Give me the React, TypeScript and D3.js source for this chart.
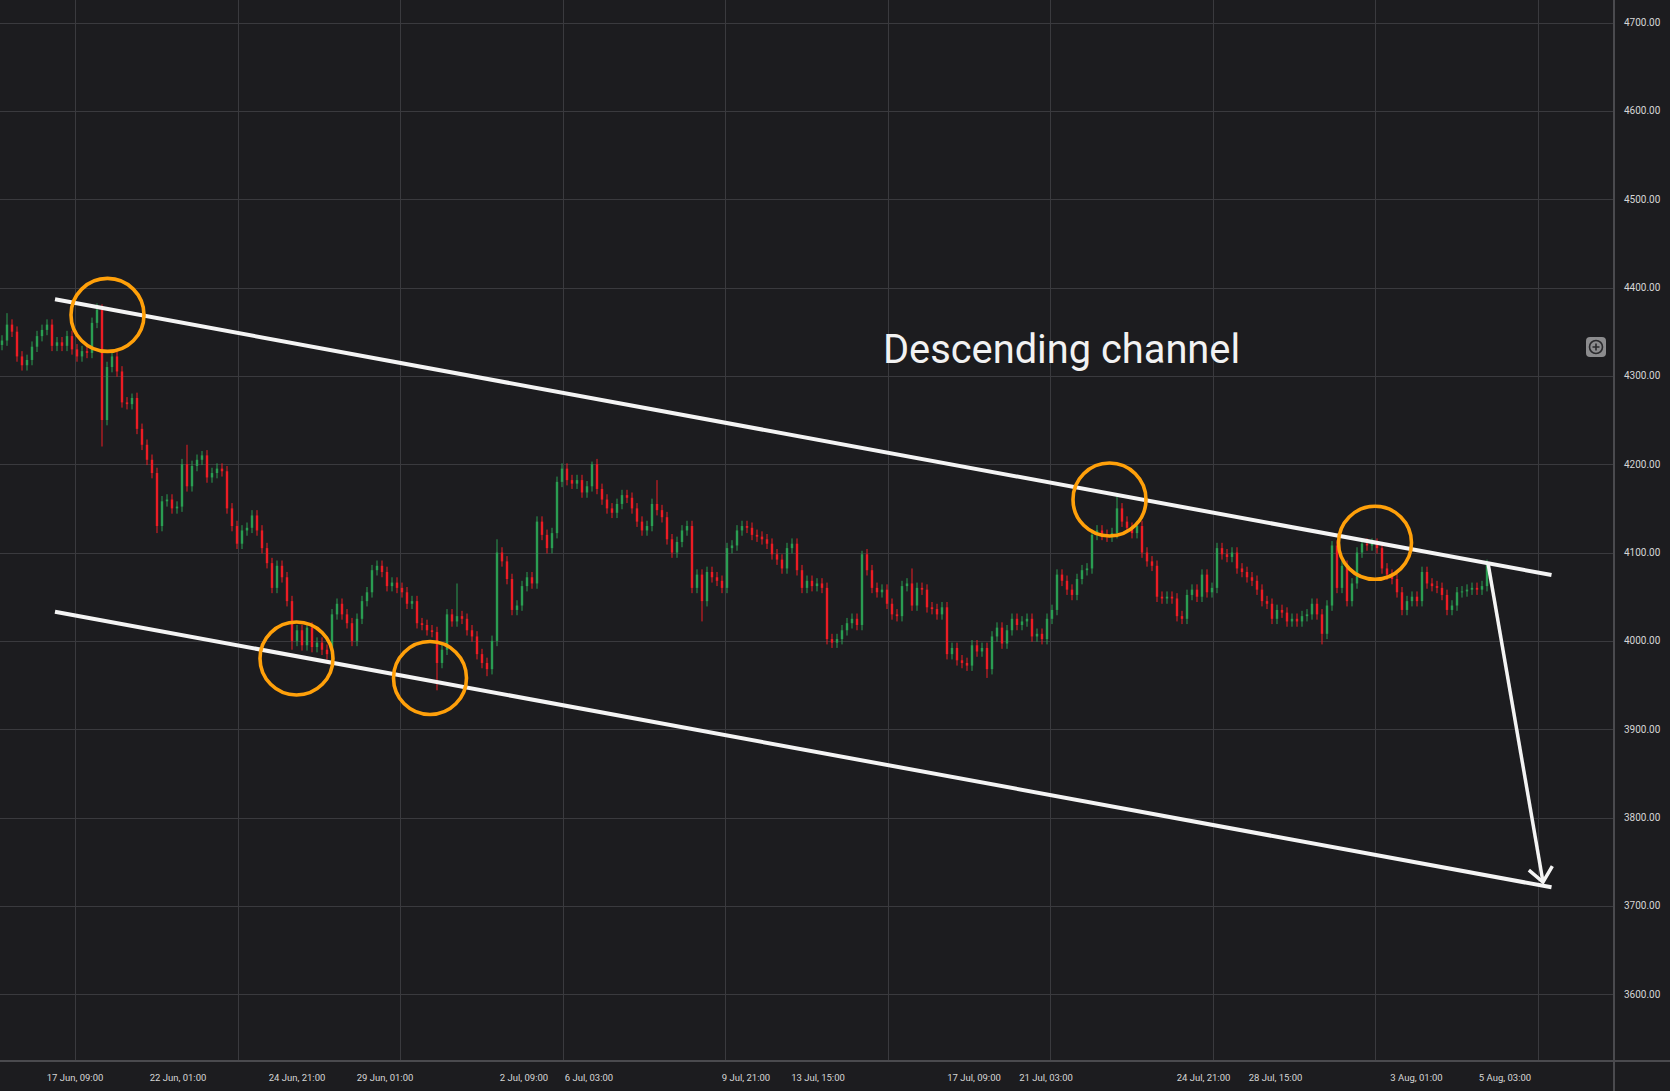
import React, { FunctionComponent, useEffect, useRef } from "react";
import * as d3 from 'd3';

// hourly closes (one value per bar)
const closes = [
  4340, 4358, 4350, 4322, 4312, 4318, 4333, 4345, 4352, 4358,
  4334, 4338, 4334, 4345, 4330, 4322, 4328, 4326, 4360, 4375,
  4250, 4310, 4322, 4305, 4270, 4268, 4275, 4240, 4222, 4205,
  4190, 4130, 4158, 4160, 4150, 4152, 4200, 4175, 4198, 4205,
  4210, 4185, 4190, 4195, 4192, 4150, 4130, 4110, 4125, 4128,
  4142, 4125, 4105, 4088, 4060, 4085, 4072, 4045, 4000, 4012,
  3995, 4015, 3993, 3998, 3990, 3985, 4030, 4042, 4030, 4020,
  4000, 4025, 4045, 4055, 4080, 4085, 4078, 4062, 4066, 4060,
  4055, 4042, 4045, 4020, 4018, 4012, 4010, 3975, 3990, 4030,
  4022, 4028, 4025, 4012, 4005, 3985, 3975, 3968, 4000, 4100,
  4090, 4070, 4035, 4040, 4062, 4072, 4065, 4135, 4120, 4105,
  4122, 4180, 4195, 4182, 4178, 4182, 4168, 4175, 4200, 4172,
  4160, 4150, 4145, 4155, 4165, 4162, 4150, 4135, 4125, 4130,
  4155, 4148, 4140, 4115, 4100, 4112, 4125, 4130, 4060, 4075,
  4045, 4078, 4072, 4068, 4060, 4105, 4108, 4125, 4130, 4128,
  4120, 4118, 4115, 4110, 4098, 4092, 4082, 4105, 4110, 4080,
  4060, 4068, 4062, 4065, 4060, 4002, 3998, 4002, 4012, 4020,
  4025, 4018, 4098, 4080, 4060, 4055, 4058, 4042, 4030, 4028,
  4062, 4065, 4040, 4060, 4058, 4038, 4036, 4030, 4038, 3985,
  3992, 3978, 3975, 3972, 3995, 3988, 3992, 3968, 4005, 4015,
  3997, 4012, 4025, 4018, 4022, 4025, 4005, 4008, 4002, 4025,
  4035, 4075, 4068, 4058, 4052, 4070, 4080, 4082, 4120, 4125,
  4120, 4118, 4122, 4150, 4135, 4128, 4122, 4130, 4100, 4090,
  4085, 4050, 4048, 4050, 4048, 4028, 4025, 4052, 4058, 4050,
  4075, 4055, 4060, 4105, 4098, 4095, 4100, 4082, 4078, 4072,
  4068, 4058, 4045, 4042, 4025, 4035, 4032, 4022, 4025, 4022,
  4028, 4030, 4042, 4030, 4008, 4040, 4108, 4060, 4085, 4045,
  4065, 4100, 4110, 4108, 4110, 4105, 4082, 4075, 4070, 4055,
  4035, 4045, 4050, 4045, 4078, 4065, 4062, 4060, 4052, 4035,
  4040, 4055, 4056, 4058, 4060, 4058, 4062, 4088,
];
const firstOpen = 4335;

// long wicks [bar, price]
const wickHighs: [number, number][] = [
  [1, 4371], [19, 4382], [26, 4280], [37, 4222], [40, 4215], [91, 4065],
  [99, 4115], [118, 4203], [131, 4182], [172, 4102], [182, 4082],
  [223, 4164], [266, 4113], [272, 4114], [297, 4092],
];
const wickLows: [number, number][] = [
  [20, 4220], [31, 4122], [58, 3990], [87, 3944], [97, 3960],
  [140, 4022], [197, 3958], [264, 3996],
];

const priceTicks = [3600, 3700, 3800, 3900, 4000, 4100, 4200, 4300, 4400, 4500, 4600, 4700];
const timeLabels = [
  '17 Jun, 09:00', '22 Jun, 01:00', '24 Jun, 21:00', '29 Jun, 01:00', '2 Jul, 09:00',
  '6 Jul, 03:00', '9 Jul, 21:00', '13 Jul, 15:00', '17 Jul, 09:00', '21 Jul, 03:00',
  '24 Jul, 21:00', '28 Jul, 15:00', '3 Aug, 01:00', '5 Aug, 03:00',
];
const timeLabelBars = [14.6, 35.2, 59, 76.6, 104.4, 117.4, 148.8, 163.2, 194.4, 208.8, 240.3, 254.7, 282.9, 300.6];

// drawings, in [bar, price]
const channelUpper: [number, number][] = [[10.6, 4386.7], [309.9, 4074.6]];
const channelLower: [number, number][] = [[10.6, 4033], [309.9, 3721]];
const arrowLine: [number, number][] = [[297.2, 4088], [308.2, 3727]];
const touches: [number, number][] = [[21.1, 4369], [58.9, 3980], [85.6, 3958], [221.5, 4160], [274.6, 4111]];

const W = 1670;
const H = 1091;
const AXIS_X = 1614;
const AXIS_Y = 1061;
const BG = '#1c1c1f';
const GRID = '#3a3a3e';
const UP = '#2a9d52';
const DOWN = '#ec1c24';

const App: FunctionComponent = () => {
  const ref = useRef(null);

  useEffect(() => {
    if (!ref.current) return;
    const svg = d3.select(ref.current);
    svg.selectAll('*').remove();

    const x = d3.scaleLinear().domain([0, 322.4]).range([2, AXIS_X]);
    const y = d3.scaleLinear().domain([3524.4, 4725.5]).range([AXIS_Y, 0]);

    svg.append('rect').attr('width', W).attr('height', H).attr('fill', BG);

    // grid
    const grid = svg.append('g').attr('shape-rendering', 'crispEdges');
    grid.selectAll('line.h').data(priceTicks).enter().append('line')
      .attr('x1', 0).attr('x2', AXIS_X)
      .attr('y1', d => Math.round(y(d)) + 0.5).attr('y2', d => Math.round(y(d)) + 0.5)
      .attr('stroke', GRID).attr('stroke-width', 1.5);
    grid.selectAll('line.v').data(d3.range(14.6, 322, 32.5)).enter().append('line')
      .attr('x1', d => Math.round(x(d)) + 0.5).attr('x2', d => Math.round(x(d)) + 0.5)
      .attr('y1', 0).attr('y2', AXIS_Y)
      .attr('stroke', GRID).attr('stroke-width', 1.5);

    // axes borders
    grid.append('line').attr('x1', 0).attr('x2', W).attr('y1', AXIS_Y).attr('y2', AXIS_Y)
      .attr('stroke', '#4a4a4e').attr('stroke-width', 1.5);
    grid.append('line').attr('x1', AXIS_X).attr('x2', AXIS_X).attr('y1', 0).attr('y2', H)
      .attr('stroke', '#4a4a4e').attr('stroke-width', 1.5);

    // candles
    const highMap = new Map(wickHighs);
    const lowMap = new Map(wickLows);
    const candles = closes.map((c, i) => {
      const o = i === 0 ? firstOpen : closes[i - 1];
      const hi = highMap.get(i) ?? Math.max(o, c) + 6;
      const lo = lowMap.get(i) ?? Math.min(o, c) - 6;
      return { i, o, c, hi, lo };
    });
    const cg = svg.append('g');
    cg.selectAll('line').data(candles).enter().append('line')
      .attr('x1', d => x(d.i)).attr('x2', d => x(d.i))
      .attr('y1', d => y(d.hi)).attr('y2', d => y(d.lo))
      .attr('stroke', d => (d.c >= d.o ? UP : DOWN)).attr('stroke-width', 1);
    cg.selectAll('rect').data(candles).enter().append('rect')
      .attr('x', d => x(d.i) - 1.2).attr('width', 2.4)
      .attr('y', d => y(Math.max(d.o, d.c)))
      .attr('height', d => Math.max(1, Math.abs(y(d.o) - y(d.c))))
      .attr('fill', d => (d.c >= d.o ? UP : DOWN));

    // price labels
    svg.append('g').selectAll('text').data(priceTicks).enter().append('text')
      .attr('x', 1624).attr('y', d => y(d) + 3.5)
      .attr('fill', '#d6d6d6').attr('font-family', 'Roboto, sans-serif').attr('font-size', 10)
      .text(d => d3.format('.2f')(d));

    // time labels
    svg.append('g').selectAll('text').data(timeLabels).enter().append('text')
      .attr('x', (d, i) => x(timeLabelBars[i])).attr('y', 1081)
      .attr('text-anchor', 'middle')
      .attr('fill', '#d6d6d6').attr('font-family', 'Roboto, sans-serif').attr('font-size', 9.5)
      .text(d => d);

    // drawings
    const line = d3.line<[number, number]>().x(d => x(d[0])).y(d => y(d[1]));
    const draw = svg.append('g').attr('fill', 'none').attr('stroke', '#f4f4f4')
      .attr('stroke-width', 4).attr('stroke-linecap', 'butt');
    draw.append('path').attr('d', line(channelUpper));
    draw.append('path').attr('d', line(channelLower));
    draw.append('path').attr('d', line(arrowLine)).attr('stroke-width', 3.5);

    const [a0, a1] = arrowLine;
    const tip = [x(a1[0]), y(a1[1])];
    const ang = Math.atan2(tip[1] - y(a0[1]), tip[0] - x(a0[0])) + Math.PI;
    const arm = (da: number) => [tip[0] + 18.5 * Math.cos(ang + da), tip[1] + 18.5 * Math.sin(ang + da)];
    const l = arm(-0.7);
    const r = arm(0.7);
    draw.append('path').attr('stroke-width', 3.5)
      .attr('d', `M${l[0]},${l[1]}L${tip[0]},${tip[1]}L${r[0]},${r[1]}`);

    svg.append('g').selectAll('circle').data(touches).enter().append('circle')
      .attr('cx', d => x(d[0])).attr('cy', d => y(d[1])).attr('r', 36.5)
      .attr('fill', 'none').attr('stroke', '#ffa00a').attr('stroke-width', 3.6);

    svg.append('text').attr('x', 883).attr('y', 363)
      .attr('fill', '#f2f2f2').attr('font-family', 'Roboto, sans-serif').attr('font-size', 39.8)
      .text('Descending channel');

    // magnifier button
    const btn = svg.append('g').attr('transform', 'translate(1596,347)');
    btn.append('rect').attr('x', -10).attr('y', -10).attr('width', 20).attr('height', 20)
      .attr('rx', 4).attr('fill', '#8c8c8e');
    btn.append('circle').attr('r', 6.5).attr('fill', 'none').attr('stroke', '#2a2a2d').attr('stroke-width', 1.6);
    btn.append('path').attr('d', 'M-3.5,0H3.5M0,-3.5V3.5').attr('stroke', '#2a2a2d').attr('stroke-width', 1.6);
  }, []);

  return (
    <div style={{ position: 'fixed', left: 0, top: 0, width: W, height: H, background: BG }}>
      <svg ref={ref} width={W} height={H} style={{ display: 'block' }} />
    </div>
  );
};

export default App;
